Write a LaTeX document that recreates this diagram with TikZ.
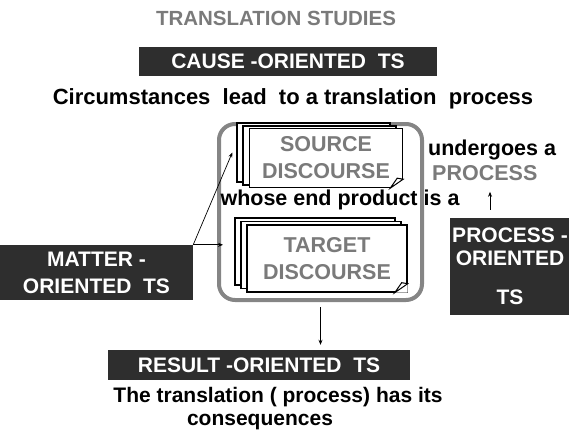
\documentclass[tikz,border=0pt]{standalone}
\usepackage{fontspec}
\setmainfont{Liberation Sans}
\usetikzlibrary{positioning,arrows.meta,calc}

\definecolor{boxdark}{HTML}{2E2E2E}
\definecolor{textgray}{HTML}{7A7A7A}
\definecolor{framegray}{HTML}{858585}

\begin{document}
\begin{tikzpicture}[x=1pt, y=-1pt,
  tsbox/.style={rectangle, fill=boxdark, text=white, align=center, inner sep=0pt, font=\fontsize{21}{24}\selectfont\bfseries},
  note/.style={align=center, inner sep=0pt, font=\fontsize{21.5}{25}\selectfont\bfseries},
  page/.style={rectangle, draw=black, line width=1.4pt, fill=white, inner sep=0pt},
  pagetext/.style={text=textgray, align=center, font=\fontsize{21.5}{27}\selectfont\bfseries},
  arrow/.style={-{Stealth[length=5pt, width=4pt]}, line width=0.7pt},
]
\useasboundingbox (0,0) rectangle (569,436);

% === Title ===
\node[text=textgray, font=\fontsize{20.5}{22}\selectfont\bfseries] (title) at (276,18) {TRANSLATION STUDIES};

% === Cause ===
\node[tsbox, minimum width=298, minimum height=29] (cause) at (288,61.5) {CAUSE -ORIENTED\ \ TS};
\node[note, font=\fontsize{22}{25}\selectfont\bfseries] (causetxt) at (293,99) {Circumstances\ \ lead\ \ to\ a\ translation\ \ process};

% === Frame round the discourses ===
\node[draw=framegray, line width=4pt, rounded corners=16pt, minimum width=203, minimum height=176, inner sep=0pt] (frame) at (320.5,212) {};

% === Source discourse (stack of pages) ===
\node[page, minimum width=153, minimum height=59] (srcB) at (313.5,152.5) {};
\node[page, minimum width=153, minimum height=59] (srcM) at (319.5,155.5) {};
\node[page, minimum width=153, minimum height=59] (src) at (326,158) {};
\node[pagetext] at (src.center) {SOURCE\\DISCOURSE};
\fill[white] (src.south east) -- ++(-13,0) -- ++(13,-9) -- cycle;
\draw[line width=1pt] ($(src.south east)+(-13,0)$) -- ++(13,-9) -- ++(-6,-1) -- cycle;

\node[note] (whose) at (340,200) {whose end product is a};

% === Target discourse (stack of pages) ===
\node[page, minimum width=160, minimum height=67] (tgtB) at (315,251.5) {};
\node[page, minimum width=160, minimum height=67] (tgtM) at (321,255) {};
\node[page, minimum width=160, minimum height=67] (tgt) at (327,258.5) {};
\node[pagetext] at (tgt.center) {TARGET\\DISCOURSE};
\fill[white] (tgt.south east) -- ++(-13,0) -- ++(13,-9) -- cycle;
\draw[line width=1pt] ($(tgt.south east)+(-13,0)$) -- ++(13,-9) -- ++(-6,-1) -- cycle;

% === Process ===
\node[note, anchor=west] (undergoes) at (428,150) {undergoes\ a};
\node[note, text=textgray, anchor=west] (proclbl) at (432,173) {PROCESS};
\node[tsbox, minimum width=120, minimum height=97, font=\fontsize{21}{23}\selectfont\bfseries] (procbox) at (510,266.5) {PROCESS -\\ORIENTED\\[16pt]TS};
\draw[arrow] ([xshift=-20pt, yshift=8pt]procbox.north) -- ([xshift=-20pt, yshift=26pt]procbox.north);

% === Matter ===
\node[tsbox, minimum width=193, minimum height=55, font=\fontsize{21}{27}\selectfont\bfseries] (matter) at (96.5,272.5) {MATTER -\\ORIENTED\ \ TS};
\draw[arrow] (matter.north east) -- ([xshift=-4pt]srcB.west);
\draw[arrow] (matter.north east) -- ([xshift=6pt]matter.north east -| frame.west);

% === Result ===
\node[tsbox, minimum width=302, minimum height=30] (result) at (259,365) {RESULT -ORIENTED\ \ TS};
\draw[arrow] ([yshift=-5pt]frame.south) -- ([yshift=5pt]frame.south |- result.north);
\node[note, font=\fontsize{21}{25}\selectfont\bfseries] (resulttxt) at (278,397) {The translation ( process) has its};
\node[note, font=\fontsize{21}{25}\selectfont\bfseries] (resulttxt2) at (260,422) {consequences};

\end{tikzpicture}
\end{document}
